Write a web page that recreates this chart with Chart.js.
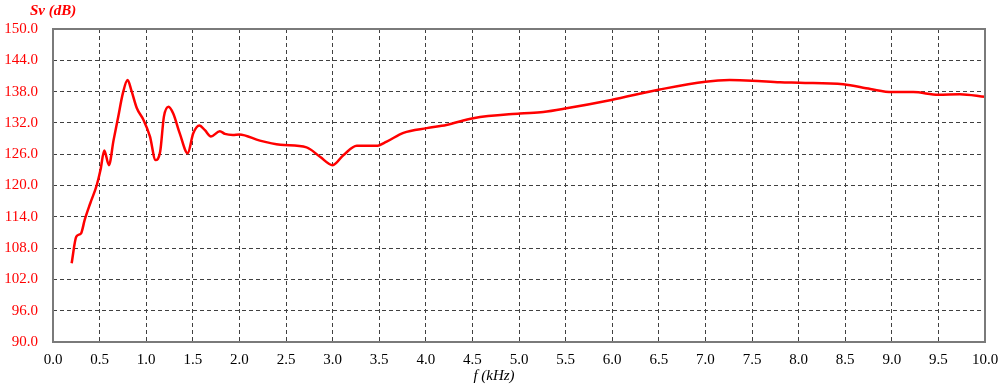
<!DOCTYPE html>
<html>
<head>
<meta charset="utf-8">
<script src="https://cdn.jsdelivr.net/npm/chart.js@4"></script>
<style>
  body { margin: 0; background: #fff; }
  #wrap { width: 1000px; height: 386px; }
</style>
</head>
<body>
<div id="wrap"><canvas id="svChart" width="1000" height="386"></canvas></div>
<script>
// Data
const freqKHz = [0.20, 0.25, 0.30, 0.34, 0.40, 0.47, 0.51, 0.55, 0.60, 0.65, 0.70, 0.75, 0.80, 0.84, 0.90, 0.97,
  1.04, 1.10, 1.15, 1.19, 1.24, 1.29, 1.36, 1.445, 1.505, 1.57, 1.63, 1.695, 1.79, 1.845, 1.93, 2.00,
  2.22, 2.44, 2.72, 2.865, 3.00, 3.115, 3.26, 3.47, 3.58, 3.76, 4.01, 4.22, 4.51, 5.01, 5.26, 5.51,
  5.99, 6.51, 7.00, 7.26, 7.50, 7.80, 8.01, 8.48, 8.77, 9.00, 9.23, 9.50, 9.73, 10.00];
const svDb = [105.1, 110.2, 110.8, 113.4, 116.6, 120.1, 123.0, 126.7, 123.9, 128.7, 133.2, 137.7, 140.2, 138.3, 134.8, 132.6,
  129.4, 124.9, 126.5, 133.2, 135.1, 133.8, 130.0, 126.2, 130.0, 131.5, 130.6, 129.4, 130.4, 129.9, 129.7, 129.8,
  128.6, 127.8, 127.3, 125.5, 123.9, 125.8, 127.6, 127.6, 128.4, 130.1, 131.0, 131.6, 132.9, 133.8, 134.1, 134.8,
  136.4, 138.4, 139.9, 140.2, 140.1, 139.8, 139.7, 139.4, 138.5, 137.9, 137.9, 137.4, 137.5, 137.0];
const yTitle = 'Sv (dB)';
const xTitle = 'f (kHz)';

const points = freqKHz.map((f, i) => ({ x: f, y: svDb[i] }));

// Frame and axis captions
const framePlugin = {
  id: 'frame',
  afterDraw(chart) {
    const { ctx, chartArea } = chart;
    ctx.save();
    ctx.strokeStyle = '#7a7a7a';
    ctx.lineWidth = 2;
    ctx.setLineDash([]);
    ctx.strokeRect(chartArea.left, chartArea.top, chartArea.right - chartArea.left, chartArea.bottom - chartArea.top);

    ctx.fillStyle = '#ff0000';
    ctx.font = 'italic bold 15px "Liberation Serif"';
    ctx.textAlign = 'left';
    ctx.textBaseline = 'middle';
    ctx.fillText(yTitle, 30, 11);

    ctx.fillStyle = '#000';
    ctx.font = 'italic 15px "Liberation Serif"';
    ctx.textAlign = 'center';
    ctx.fillText(xTitle, 494, 376);
    ctx.restore();
  }
};

const ctx = document.getElementById('svChart').getContext('2d');
const svChart = new Chart(ctx, {
  type: 'line',
  data: {
    datasets: [{
      data: points,
      borderColor: '#ff0000',
      borderWidth: 2.5,
      pointRadius: 0,
      cubicInterpolationMode: 'monotone',
      fill: false
    }]
  },
  options: {
    responsive: false,
    animation: false,
    layout: { padding: { top: 29, right: 15, left: 0, bottom: 0 } },
    plugins: { legend: { display: false }, tooltip: { enabled: false } },
    scales: {
      x: {
        type: 'linear',
        min: 0,
        max: 10,
        afterFit: s => { s.height = 44; s.paddingRight = 0; s.paddingLeft = 0; },
        ticks: {
          stepSize: 0.5,
          padding: 9,
          color: '#000',
          font: { family: '"Liberation Serif"', size: 15 },
          callback: v => v.toFixed(1),
          maxRotation: 0,
          autoSkip: false
        },
        grid: { color: '#404040', lineWidth: 1, drawTicks: false },
        border: { display: false, dash: [4, 3] }
      },
      y: {
        min: 90,
        max: 150,
        afterFit: s => { s.width = 53; },
        ticks: {
          stepSize: 6,
          padding: 15,
          color: '#ff0000',
          font: { family: '"Liberation Serif"', size: 15 },
          callback: v => v.toFixed(1)
        },
        grid: { color: '#404040', lineWidth: 1, drawTicks: false },
        border: { display: false, dash: [4, 3] }
      }
    }
  },
  plugins: [framePlugin]
});
</script>
</body>
</html>
